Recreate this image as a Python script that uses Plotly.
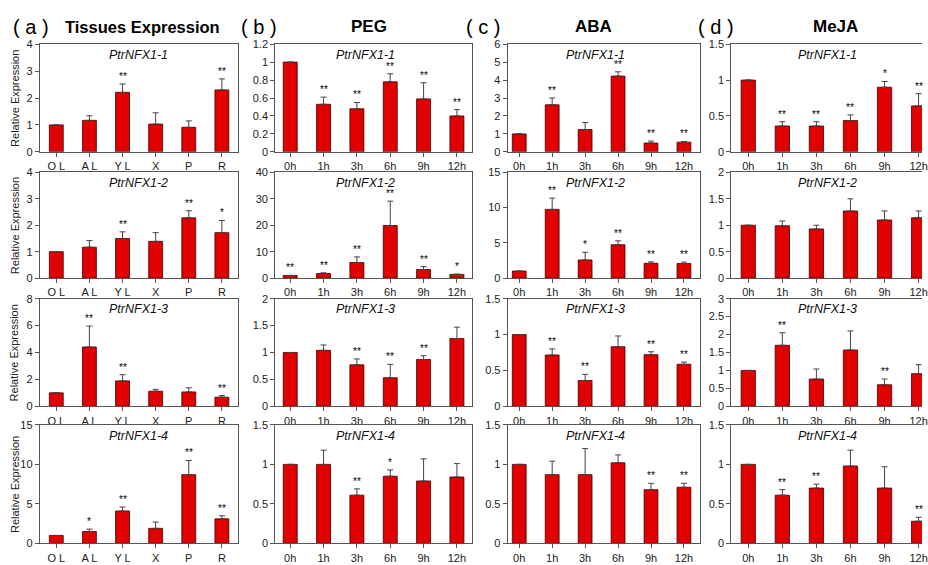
import plotly.graph_objects as go

tissues = ["O L", "A L", "Y L", "X", "P", "R"]
hours = ["0h", "1h", "3h", "6h", "9h", "12h"]
genes = ["PtrNFX1-1", "PtrNFX1-2", "PtrNFX1-3", "PtrNFX1-4"]
treatments = ["Tissues Expression", "PEG", "ABA", "MeJA"]
panel_tags = ["( a )", "( b )", "( c )", "( d )"]

# ---- (a) tissues ----
tissue_mean = [
    [1.0, 1.17, 2.21, 1.03, 0.91, 2.30],
    [1.0, 1.17, 1.50, 1.39, 2.28, 1.72],
    [1.0, 4.41, 1.89, 1.12, 1.07, 0.68],
    [1.0, 1.5, 4.1, 1.9, 8.7, 3.1],
]
tissue_err = [
    [0.0, 0.17, 0.31, 0.42, 0.24, 0.41],
    [0.0, 0.25, 0.25, 0.33, 0.27, 0.46],
    [0.0, 1.55, 0.46, 0.14, 0.31, 0.12],
    [0.0, 0.3, 0.5, 0.8, 1.8, 0.4],
]
tissue_sig = [
    ["", "", "**", "", "", "**"],
    ["", "", "**", "", "**", "*"],
    ["", "**", "**", "", "", "**"],
    ["", "*", "**", "", "**", "**"],
]

# ---- (b) PEG ----
peg_mean = [
    [1.0, 0.53, 0.48, 0.78, 0.59, 0.40],
    [1.0, 1.75, 5.9, 19.9, 3.25, 1.4],
    [1.0, 1.04, 0.77, 0.53, 0.87, 1.26],
    [1.0, 1.0, 0.61, 0.85, 0.79, 0.84],
]
peg_err = [
    [0.0, 0.08, 0.07, 0.09, 0.18, 0.07],
    [0.0, 0.25, 2.1, 9.2, 1.1, 0.1],
    [0.0, 0.10, 0.11, 0.25, 0.07, 0.21],
    [0.0, 0.18, 0.08, 0.08, 0.28, 0.17],
]
peg_sig = [
    ["", "**", "**", "**", "**", "**"],
    ["**", "**", "**", "**", "**", "*"],
    ["", "", "**", "**", "**", ""],
    ["", "", "**", "*", "", ""],
]

# ---- (c) ABA ----
aba_mean = [
    [1.0, 2.62, 1.24, 4.22, 0.49, 0.54],
    [1.0, 9.75, 2.58, 4.73, 2.1, 2.06],
    [1.0, 0.715, 0.36, 0.83, 0.72, 0.585],
    [1.0, 0.87, 0.87, 1.02, 0.68, 0.71],
]
aba_err = [
    [0.0, 0.38, 0.39, 0.24, 0.11, 0.04],
    [0.0, 1.6, 1.08, 0.56, 0.2, 0.2],
    [0.0, 0.085, 0.085, 0.15, 0.04, 0.03],
    [0.0, 0.17, 0.33, 0.1, 0.08, 0.05],
]
aba_sig = [
    ["", "**", "", "**", "**", "**"],
    ["", "**", "*", "**", "**", "**"],
    ["", "**", "**", "", "**", "**"],
    ["", "", "", "", "**", "**"],
]

# ---- (d) MeJA ----
meja_mean = [
    [1.0, 0.36, 0.36, 0.435, 0.90, 0.64],
    [1.0, 0.99, 0.93, 1.27, 1.10, 1.14],
    [1.0, 1.70, 0.76, 1.57, 0.60, 0.91],
    [1.0, 0.61, 0.70, 0.98, 0.70, 0.28],
]
meja_err = [
    [0.0, 0.06, 0.06, 0.08, 0.08, 0.17],
    [0.0, 0.09, 0.07, 0.23, 0.17, 0.13],
    [0.0, 0.35, 0.28, 0.53, 0.16, 0.25],
    [0.0, 0.07, 0.05, 0.2, 0.27, 0.05],
]
meja_sig = [
    ["", "**", "**", "**", "*", "**"],
    ["", "", "", "", "", ""],
    ["", "**", "", "", "**", ""],
    ["", "**", "**", "", "", "**"],
]

means = [tissue_mean, peg_mean, aba_mean, meja_mean]
errs = [tissue_err, peg_err, aba_err, meja_err]
sigs = [tissue_sig, peg_sig, aba_sig, meja_sig]

# axis scales (row x column)
y_max = [[4, 1.2, 6, 1.5], [4, 40, 15, 2], [8, 2, 1.5, 3], [15, 1.5, 1.5, 1.5]]
y_dtick = [[1, 0.2, 1, 0.5], [1, 10, 5, 0.5], [2, 0.5, 0.5, 0.5], [5, 0.5, 0.5, 0.5]]

# ---- layout geometry (pixels) ----
W, H = 928, 565
col_px = [(40, 240), (277, 475), (511, 705), (736, 928)]
row_px = [(39, 149), (170, 278), (299, 409), (428, 549)]
x_ranges = [[-0.5, 5.5], [-0.45, 5.45], [-0.35, 5.5], [-0.5, 5.1]]
gene_cx = [139, 368, 599, 833]
FONT = "Arial, Liberation Sans, sans-serif"
RED = "#E00000"
LINE = "#555555"


def px_x(p):
    return p / W


def px_y(p):
    return 1 - p / H


fig = go.Figure()
annotations = []
layout_axes = {}

for r in range(4):
    for c in range(4):
        k = r * 4 + c + 1
        xa = "x" if k == 1 else f"x{k}"
        ya = "y" if k == 1 else f"y{k}"
        cats = tissues if c == 0 else hours
        m = means[c][r]
        e = errs[c][r]
        s = sigs[c][r]
        fig.add_trace(go.Bar(
            x=cats, y=m, width=0.42,
            marker=dict(color=RED, line=dict(color="#400000", width=0.8)),
            error_y=dict(type="data", array=e, arrayminus=[0] * len(e), symmetric=False,
                         color="#444444", thickness=1, width=3),
            xaxis=xa, yaxis=ya, showlegend=False, hoverinfo="skip",
        ))
        for i, txt in enumerate(s):
            if txt:
                annotations.append(dict(
                    x=cats[i], y=m[i] + e[i], xref=xa, yref=ya, text=txt,
                    showarrow=False, yanchor="bottom", yshift=0,
                    font=dict(family=FONT, size=10, color="#000"),
                ))
        xkey = "xaxis" if k == 1 else f"xaxis{k}"
        ykey = "yaxis" if k == 1 else f"yaxis{k}"
        layout_axes[xkey] = dict(
            domain=[px_x(col_px[c][0]), px_x(col_px[c][1])],
            anchor=ya, type="category", range=x_ranges[c],
            showline=True, linecolor=LINE, linewidth=1, mirror=True,
            ticks="outside", ticklen=4, tickcolor=LINE,
            tickfont=dict(family=FONT, size=11, color="#222"),
            showgrid=False, zeroline=False, fixedrange=True,
        )
        layout_axes[ykey] = dict(
            domain=[px_y(row_px[r][1]), px_y(row_px[r][0])],
            anchor=xa, range=[0, y_max[r][c]], dtick=y_dtick[r][c], tick0=0,
            showline=True, linecolor=LINE, linewidth=1, mirror=(c != 3),
            ticks="outside", ticklen=4, tickcolor=LINE,
            tickfont=dict(family=FONT, size=11, color="#222"),
            showgrid=False, zeroline=False, fixedrange=True,
        )
        # gene label
        annotations.append(dict(
            x=px_x(gene_cx[c]), y=px_y(row_px[r][0] + 11), xref="paper", yref="paper",
            text=f"<i>{genes[r]}</i>", showarrow=False, xanchor="center", yanchor="middle",
            font=dict(family=FONT, size=12.5, color="#111"),
        ))
    # y-axis title for column a
    annotations.append(dict(
        x=px_x(15), y=px_y((row_px[r][0] + row_px[r][1]) / 2), xref="paper", yref="paper",
        text="Relative Expression", textangle=-90, showarrow=False,
        xanchor="center", yanchor="middle",
        font=dict(family=FONT, size=11, color="#222"),
    ))

# column headers
tag_cx = [31, 261, 486, 721]
title_cx = [143, 371, 597, 841]
title_size = [16.5, 17, 17, 17]
for c in range(4):
    annotations.append(dict(
        x=px_x(tag_cx[c]), y=px_y(21), xref="paper", yref="paper",
        text=panel_tags[c], showarrow=False, xanchor="center", yanchor="middle",
        font=dict(family=FONT, size=20, color="#000"),
    ))
    annotations.append(dict(
        x=px_x(title_cx[c]), y=px_y(21), xref="paper", yref="paper",
        text=f"<b>{treatments[c]}</b>", showarrow=False, xanchor="center", yanchor="middle",
        font=dict(family=FONT, size=title_size[c], color="#000"),
    ))

fig.update_layout(
    width=W, height=H, margin=dict(l=0, r=0, t=0, b=0),
    paper_bgcolor="white", plot_bgcolor="white",
    annotations=annotations, bargap=0.5, **layout_axes,
)

fig.write_html(
    "out.html",
    config={"displayModeBar": False},
    post_script="document.body.style.margin='0';document.body.style.overflow='hidden';",
)
